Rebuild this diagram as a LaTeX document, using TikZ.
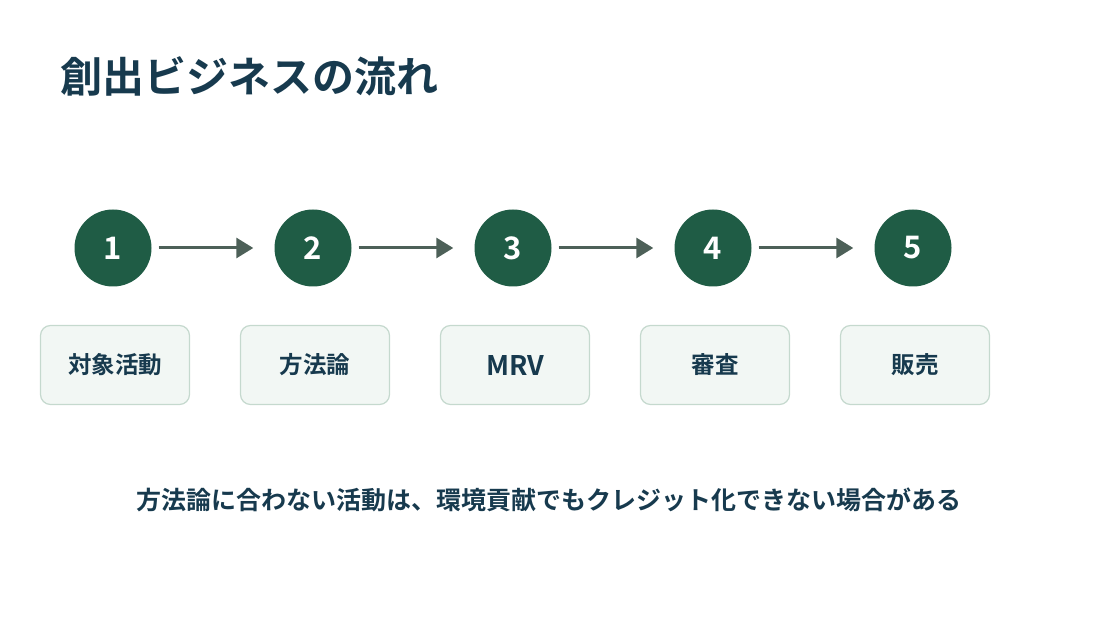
\documentclass[tikz,border=0pt]{standalone}
\usepackage{fontspec}
\setmainfont{Noto Sans CJK JP}[BoldFont={Noto Sans CJK JP Bold}]
\usetikzlibrary{arrows.meta}
\definecolor{navy}{HTML}{173A4E}
\definecolor{stepgreen}{HTML}{1F5C45}
\definecolor{flowgray}{HTML}{4D6058}
\definecolor{boxfill}{HTML}{F2F7F4}
\definecolor{boxline}{HTML}{C5D9CE}
\tikzset{
  num/.style={circle, fill=stepgreen, minimum size=77pt, inner sep=0pt,
    text=white, font=\bfseries\fontsize{31}{31}\selectfont},
  stage/.style={draw=boxline, line width=1.2pt, fill=boxfill, rounded corners=10pt,
    minimum width=149pt, minimum height=79pt, inner sep=0pt,
    text=navy, font=\bfseries\fontsize{23.5}{23.5}\selectfont},
  flow/.style={-{Triangle[length=17pt,width=20pt]}, draw=flowgray, fill=flowgray,
    line width=3pt, shorten <=7pt, shorten >=21pt}
}
\begin{document}
\begin{tikzpicture}[x=1pt, y=-1pt]
    \useasboundingbox (0,0) rectangle (1100,620);
    \node[anchor=base west, inner sep=0pt, text=navy, font=\bfseries\fontsize{42}{42}\selectfont] (title) at (60,93) {創出ビジネスの流れ};
    \node[num] (c1) at (113,248) {1};
    \node[num] (c2) at (313,248) {2};
    \node[num] (c3) at (513,248) {3};
    \node[num] (c4) at (713,248) {4};
    \node[num] (c5) at (913,248) {5};
    \draw[flow] (c1) -- (c2);
    \draw[flow] (c2) -- (c3);
    \draw[flow] (c3) -- (c4);
    \draw[flow] (c4) -- (c5);
    \node[stage] (b1) at (115,365) {対象活動};
    \node[stage] (b2) at (315,365) {方法論};
    \node[stage, font=\bfseries\fontsize{27}{27}\selectfont] (b3) at (515,365) {MRV};
    \node[stage] (b4) at (715,365) {審査};
    \node[stage] (b5) at (915,365) {販売};
    \node[text=navy, font=\bfseries\fontsize{25}{25}\selectfont] (note) at (549,500) {方法論に合わない活動は、環境貢献でもクレジット化できない場合がある};
\end{tikzpicture}
\end{document}
